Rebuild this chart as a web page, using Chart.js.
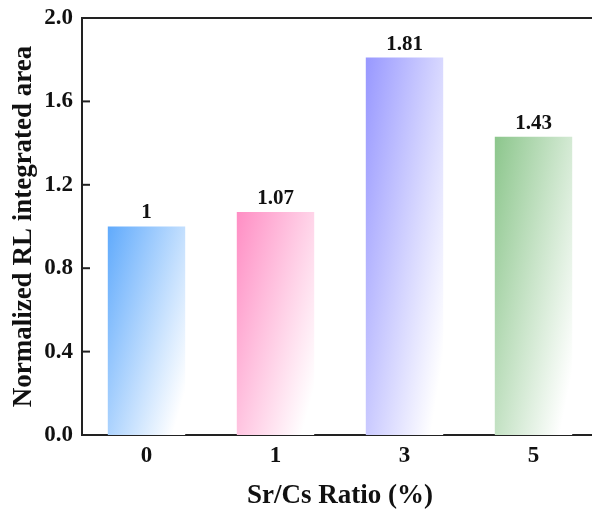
<!DOCTYPE html>
<html>
<head>
<meta charset="utf-8">
<script src="https://cdn.jsdelivr.net/npm/chart.js@4.4.0/dist/chart.umd.min.js"></script>
<style>
  html, body { margin: 0; padding: 0; background: #fff; overflow: hidden; }
  #wrap { width: 600px; height: 514px; }
</style>
</head>
<body>
<div id="wrap"><canvas id="chart" width="600" height="514"></canvas></div>
<script>
const categories = ['0', '1', '3', '5'];
const areaValues = [1, 1.07, 1.81, 1.43];
const valueLabels = ['1', '1.07', '1.81', '1.43'];
const yTicks = [0, 0.4, 0.8, 1.2, 1.6, 2.0];
const barColors = ['#60aafc', '#ff8ec4', '#9898ff', '#8cc68c'];

const FONT = "'Liberation Serif', 'Times New Roman', serif";
const AXIS = '#222';

// gradient in bar-normalised space: fades a bit faster across than down
function barGradient(ctx) {
    const chart = ctx.chart;
    const xs = chart.scales.x, ys = chart.scales.y;
    const i = ctx.dataIndex;
    if (!xs || !ys || ctx.type !== 'data') return barColors[i];
    const w = (xs.width / categories.length) * 0.6;
    const x0 = xs.getPixelForValue(i) - w / 2;
    const y0 = ys.getPixelForValue(areaValues[i]);
    const h = ys.getPixelForValue(0) - y0;
    const gx = 0.62 / w, gy = 0.48 / h;
    const n = gx * gx + gy * gy;
    if (![w, x0, y0, h, n].every(Number.isFinite) || h <= 0 || w <= 0) return barColors[i];
    const g = chart.ctx.createLinearGradient(x0, y0, x0 + gx / n, y0 + gy / n);
    g.addColorStop(0, barColors[i]);
    g.addColorStop(1, '#ffffff');
    return g;
}

const extras = {
    id: 'extras',
    afterDraw(chart) {
        const { ctx, chartArea } = chart;
        const ys = chart.scales.y;
        ctx.save();
        ctx.strokeStyle = AXIS;
        ctx.lineWidth = 2;
        // top frame line
        ctx.beginPath();
        ctx.moveTo(chartArea.left - 1, chartArea.top);
        ctx.lineTo(chartArea.right, chartArea.top);
        ctx.stroke();
        // inward y ticks
        ys.ticks.forEach(tk => {
            const y = ys.getPixelForValue(tk.value);
            ctx.beginPath();
            ctx.moveTo(chartArea.left, y);
            ctx.lineTo(chartArea.left + 8, y);
            ctx.stroke();
        });
        // value labels
        const meta = chart.getDatasetMeta(0);
        ctx.fillStyle = '#111';
        ctx.font = 'bold 21px ' + FONT;
        ctx.textAlign = 'center';
        ctx.textBaseline = 'bottom';
        meta.data.forEach((bar, i) => {
            ctx.fillText(valueLabels[i], bar.x, bar.y - 3);
        });
        ctx.restore();
    }
};

const chart = new Chart(document.getElementById('chart'), {
    type: 'bar',
    data: {
        labels: categories,
        datasets: [{
            data: areaValues,
            backgroundColor: barGradient,
            borderWidth: 0,
            barPercentage: 0.6,
            categoryPercentage: 1.0
        }]
    },
    options: {
        responsive: false,
        animation: false,
        layout: { padding: { top: 18, right: 2, bottom: 0, left: 0 } },
        plugins: { legend: { display: false }, tooltip: { enabled: false } },
        scales: {
            x: {
                grid: { display: false, drawTicks: false },
                border: { display: true, color: AXIS, width: 2 },
                ticks: { color: '#111', padding: 7, font: { family: FONT, size: 23, weight: 'bold' } },
                title: {
                    display: true, text: 'Sr/Cs Ratio (%)', color: '#111',
                    font: { family: FONT, size: 27, weight: 'bold' },
                    padding: { top: 0, bottom: 2 }
                },
                afterFit(s) { s.height = 79; s.paddingLeft = 0; s.paddingRight = 0; }
            },
            y: {
                min: 0, max: 2,
                afterBuildTicks(s) { s.ticks = yTicks.map(v => ({ value: v })); },
                grid: { display: false, drawTicks: false },
                border: { display: true, color: AXIS, width: 2 },
                ticks: {
                    color: '#111', padding: 9,
                    font: { family: FONT, size: 23, weight: 'bold' },
                    callback: v => v.toFixed(1)
                },
                title: {
                    display: true, text: 'Normalized RL integrated area', color: '#111',
                    font: { family: FONT, size: 27, weight: 'bold' },
                    padding: { top: 8, bottom: 0 }
                },
                afterFit(s) { s.width = 82; s.paddingTop = 0; s.paddingBottom = 0; }
            }
        }
    },
    plugins: [extras]
});
chart.update();
</script>
</body>
</html>
